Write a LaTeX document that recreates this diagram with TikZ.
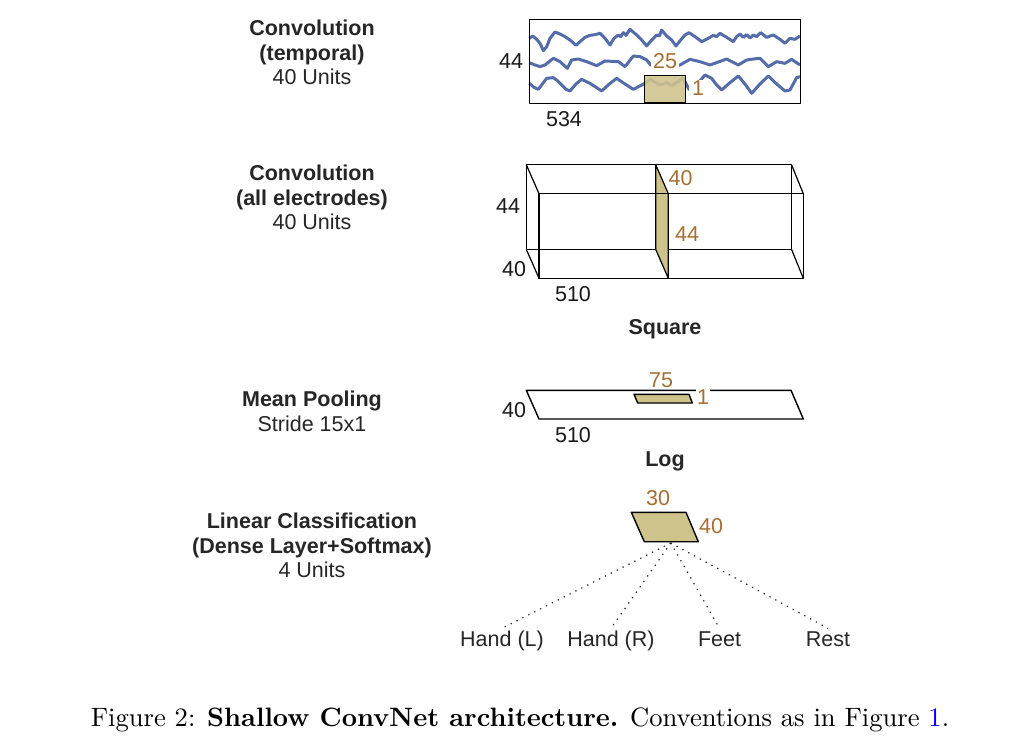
\documentclass[tikz,border=0pt]{standalone}
\usepackage{fontspec}
\newfontfamily\diagfont{Liberation Sans}
\usepackage{xcolor}
\usepackage{tikz}
\usetikzlibrary{positioning, calc}
\definecolor{kernelfill}{RGB}{207,195,140}
\definecolor{kerneltext}{RGB}{166,112,50}
\definecolor{wavecolor}{RGB}{84,109,170}
\definecolor{labeltext}{RGB}{38,38,38}

\begin{document}
\begin{tikzpicture}[x=1pt, y=-1pt,
  layer/.style={align=center, text=labeltext, font=\diagfont\fontsize{21.5}{24.5}\selectfont},
  dim/.style={text=black!90, inner sep=1pt, font=\diagfont\fontsize{21.5}{24}\selectfont},
  kdim/.style={text=kerneltext, fill=white, inner sep=1pt, font=\diagfont\fontsize{21.5}{24}\selectfont},
  opname/.style={text=labeltext, font=\diagfont\bfseries\fontsize{21.5}{24}\selectfont},
  classname/.style={text=labeltext, inner sep=1pt, anchor=base, text height=17pt, text depth=5pt, font=\diagfont\fontsize{21.5}{24}\selectfont},
  kernel/.style={draw=black, line width=1.4pt, fill=kernelfill, line join=round},
  frame/.style={draw=black, line width=1.4pt, line join=round},
  wave/.style={draw=wavecolor, line width=3pt, line join=round},
  classlink/.style={line width=1.2pt, black!85, dash pattern=on 1.3pt off 5.3pt}]
  \useasboundingbox (0,0) rectangle (1024,752);

  % layer names
  \node[layer] (conv1) at (312,52.5) {\textbf{Convolution}\\\textbf{(temporal)}\\40 Units};
  \node[layer] (conv2) at (312,197.5) {\textbf{Convolution}\\\textbf{(all electrodes)}\\40 Units};
  \node[layer] (pool) at (312,411.5) {\textbf{Mean Pooling}\\Stride 15x1};
  \node[layer] (dense) at (312,545.5) {\textbf{Linear Classification}\\\textbf{(Dense Layer+Softmax)}\\4 Units};

  % input signal
  \begin{scope}[shift={(490,10)}, x=0.3333pt, y=-0.3333pt]
    \draw[wave] plot coordinates {(118,85)(128,78)(140,88)(150,100)(160,122)(170,110)(180,85)(195,66)(210,72)(225,80)(240,90)(258,106)(270,95)(285,82)(300,76)(315,74)(330,70)(345,85)(360,105)(372,85)(385,75)(392,80)(400,68)(408,76)(420,58)(440,75)(455,90)(470,108)(485,90)(500,75)(508,78)(515,60)(530,78)(545,90)(558,108)(572,90)(585,75)(597,68)(615,80)(635,95)(655,85)(670,76)(680,80)(690,70)(710,82)(730,95)(740,80)(750,72)(760,82)(770,74)(780,84)(790,75)(800,80)(812,68)(830,82)(850,75)(870,88)(885,100)(900,85)(915,88)(930,78)};
    \draw[wave] plot coordinates {(118,158)(135,165)(150,170)(165,165)(190,145)(210,155)(232,175)(245,150)(265,147)(290,155)(320,167)(345,153)(385,155)(405,170)(430,138)(450,140)(470,150)(482,165)(525,175)(570,165)(600,148)(630,155)(660,165)(710,147)(745,165)(770,150)(790,147)(810,145)(835,170)(860,155)(885,160)(905,148)(930,165)};
    \draw[wave] plot coordinates {(118,220)(132,232)(145,238)(157,222)(170,205)(190,203)(202,212)(215,225)(228,238)(240,243)(258,222)(275,208)(300,220)(335,243)(358,222)(380,205)(405,222)(430,238)(465,220)(480,208)(510,225)(530,218)(545,227)(580,205)(597,238)(620,225)(645,195)(665,205)(680,225)(695,240)(720,218)(745,198)(765,222)(785,250)(810,222)(835,198)(860,222)(885,243)(900,240)(920,203)(930,200)};
  \end{scope}
  \draw[frame] (529.3,19.3) rectangle (800.7,103.6);
  \draw[kernel, fill opacity=.88] (644.7,75.7) rectangle (685.3,102.3);
  \node[dim] (h1) at (511,61) {44};
  \node[dim] (w1) at (564,119) {534};
  \node[kdim, inner xsep=2pt] (kw1) at (665,61) {25};
  \node[kdim, inner xsep=3pt] (kh1) at (698,88) {1};

  % spatial convolution
  \draw[frame, line width=1.2pt] (526.3,164.7) rectangle (791.5,249.3);
  \draw[kernel, line width=1.2pt] (655.7,164.7) -- (668.3,193.7) -- (668.3,278.3) -- (655.7,249.3) -- cycle;
  \draw[frame, line width=1.2pt] (526.3,164.7) -- (539,193.7) (791.5,164.7) -- (803.3,193.7)
    (526.3,249.3) -- (539,278.3) (791.5,249.3) -- (803.3,278.3);
  \draw[frame] (539,193.7) rectangle (803.3,278.3);
  \node[dim] (h2) at (508,206) {44};
  \node[dim] (d2) at (514,269) {40};
  \node[dim] (w2) at (573,294) {510};
  \node[kdim] (kd2) at (680.5,178) {40};
  \node[kdim] (kh2) at (687,234) {44};
  \node[opname] (square) at (665,329.5) {Square};

  % pooling
  \draw[frame] (526.3,390.3) -- (791,390.3) -- (803.3,419) -- (539,419) -- cycle;
  \draw[kernel] (634,394.3) -- (689,394.3) -- (692.3,403) -- (637.7,403) -- cycle;
  \node[dim] (d3) at (514,410) {40};
  \node[dim] (w3) at (573,435) {510};
  \node[kdim] (kw3) at (661,380) {75};
  \node[kdim] (kh3) at (703,397) {1};
  \node[opname] (log) at (665,461.5) {Log};

  % classifier
  \draw[kernel] (631.3,512.3) -- (686,512.3) -- (698.3,541.7) -- (644.3,541.7) -- cycle;
  \coordinate (out) at (670.8,543);
  \node[kdim] (kw4) at (658,498) {30};
  \node[kdim] (kh4) at (711,526) {40};

  \node[classname] (handl) at (502,646.5) {Hand (L)};
  \node[classname] (handr) at (611,646.5) {Hand (R)};
  \node[classname] (feet) at (719.5,646.5) {Feet};
  \node[classname] (rest) at (828,646.5) {Rest};
  \draw[classlink] (out) -- (handl.north);
  \draw[classlink] (out) -- (handr.north);
  \draw[classlink] (out) -- (feet.north);
  \draw[classlink] (out) -- (rest.north);

  \node[scale=2.658] (caption) at (520,720) {Figure 2: \textbf{Shallow ConvNet architecture.} Conventions as in Figure \textcolor{blue}{1}.};
\end{tikzpicture}
\end{document}
